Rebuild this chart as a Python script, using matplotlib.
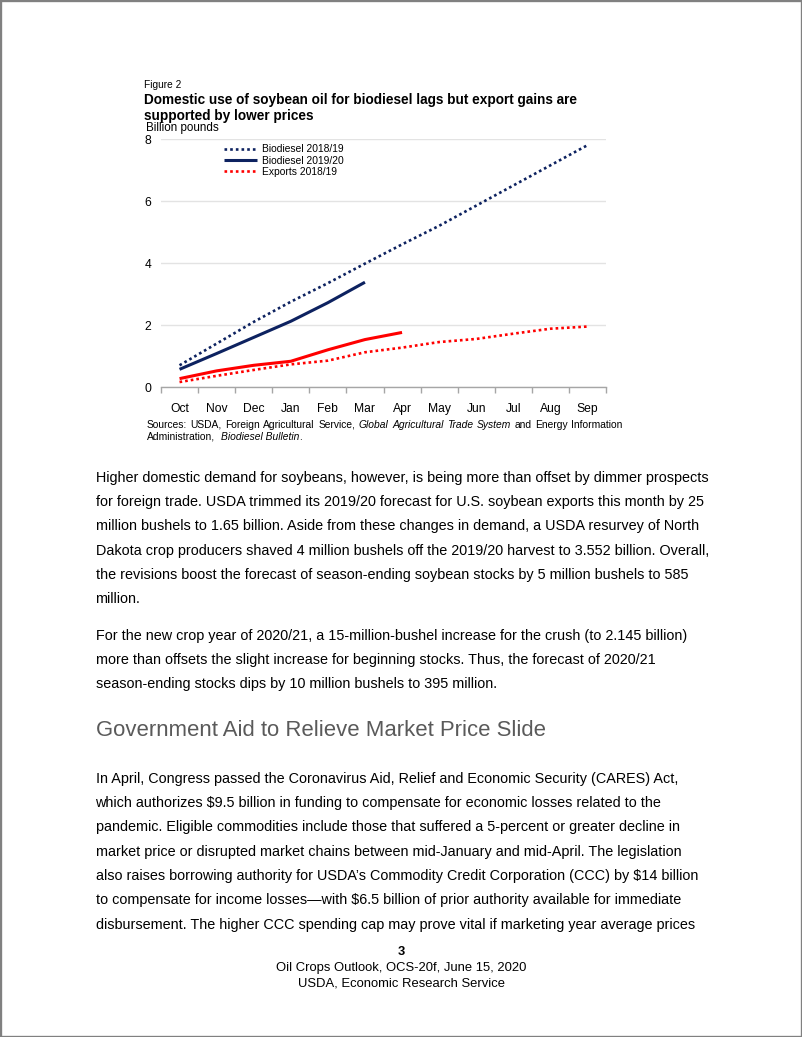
import matplotlib
matplotlib.use('Agg')
import matplotlib.pyplot as plt
from matplotlib.patches import Rectangle
import numpy as np

W, H, DPI = 802, 1037, 100
plt.rcParams['font.family'] = ['Liberation Sans', 'DejaVu Sans']

# ---------------- data ----------------
months = ['Oct', 'Nov', 'Dec', 'Jan', 'Feb', 'Mar', 'Apr', 'May', 'Jun', 'Jul', 'Aug', 'Sep']
biodiesel_1819 = [0.70, 1.40, 2.10, 2.75, 3.35, 3.98, 4.60, 5.20, 5.85, 6.50, 7.15, 7.80]
biodiesel_1920 = [0.57, 1.08, 1.60, 2.12, 2.72, 3.38]
exports_1819 = [0.16, 0.36, 0.55, 0.73, 0.85, 1.12, 1.27, 1.45, 1.55, 1.72, 1.88, 1.95]
exports_1920 = [0.27, 0.52, 0.70, 0.83, 1.20, 1.53, 1.76]
yticks = [0, 2, 4, 6, 8]
legend_labels = ['Biodiesel 2018/19', 'Biodiesel 2019/20', 'Exports 2018/19']

fig_label = 'Figure 2'
title_lines = ['Domestic use of soybean oil for biodiesel lags but export gains are',
               'supported by lower prices']
unit_label = 'Billion pounds'

para1 = ["Higher domestic demand for soybeans, however, is being more than offset by dimmer prospects",
         "for foreign trade. USDA trimmed its 2019/20 forecast for U.S. soybean exports this month by 25",
         "million bushels to 1.65 billion. Aside from these changes in demand, a USDA resurvey of North",
         "Dakota crop producers shaved 4 million bushels off the 2019/20 harvest to 3.552 billion. Overall,",
         "the revisions boost the forecast of season-ending soybean stocks by 5 million bushels to 585",
         "million."]
para2 = ["For the new crop year of 2020/21, a 15-million-bushel increase for the crush (to 2.145 billion)",
         "more than offsets the slight increase for beginning stocks. Thus, the forecast of 2020/21",
         "season-ending stocks dips by 10 million bushels to 395 million."]
heading = "Government Aid to Relieve Market Price Slide"
para3 = ["In April, Congress passed the Coronavirus Aid, Relief and Economic Security (CARES) Act,",
         "which authorizes $9.5 billion in funding to compensate for economic losses related to the",
         "pandemic. Eligible commodities include those that suffered a 5-percent or greater decline in",
         "market price or disrupted market chains between mid-January and mid-April. The legislation",
         "also raises borrowing authority for USDA\u2019s Commodity Credit Corporation (CCC) by $14 billion",
         "to compensate for income losses\u2014with $6.5 billion of prior authority available for immediate",
         "disbursement. The higher CCC spending cap may prove vital if marketing year average prices"]
footer = ["3", "Oil Crops Outlook, OCS-20f, June 15, 2020", "USDA, Economic Research Service"]

# ---------------- figure ----------------
fig = plt.figure(figsize=(W / DPI, H / DPI), dpi=DPI)
fig.patch.set_facecolor('white')
renderer = fig.canvas.get_renderer()


def fx(x):
    return x / W


def fy(y):
    return 1 - y / H


def measure(s, size, weight='normal', style='normal'):
    t = fig.text(0, 0, s, fontsize=size, fontweight=weight, fontstyle=style, parse_math=False)
    w = t.get_window_extent(renderer).width
    t.remove()
    return w


def fit(s, target, weight='normal', style='normal'):
    return 10.0 * target / measure(s, 10.0, weight, style)


def put(x, yc, s, size, weight='normal', style='normal', color='black', ha='left'):
    # yc = visual centre of the line in page pixels
    base = yc + 0.33 * size * DPI / 72.0
    return fig.text(fx(x), fy(base), s, fontsize=size, fontweight=weight, fontstyle=style,
                    color=color, ha=ha, va='baseline', parse_math=False)


NAVY = '#0d2260'
RED = '#ff0000'

# ---------------- chart ----------------
ax_left, ax_right, ax_top, ax_bot = 161, 606, 139, 387
ax = fig.add_axes([fx(ax_left), fy(ax_bot), (ax_right - ax_left) / W, (ax_bot - ax_top) / H])
x_all = np.arange(len(months)) + 0.5

dot = (0, (1.0, 1.15))
ax.plot(x_all, biodiesel_1819, color=NAVY, lw=1.9, linestyle=dot, dash_capstyle='butt',
        label=legend_labels[0], zorder=3)
ax.plot(x_all[:len(biodiesel_1920)], biodiesel_1920, color=NAVY, lw=2.2,
        solid_capstyle='butt', label=legend_labels[1], zorder=4)
ax.plot(x_all, exports_1819, color=RED, lw=1.9, linestyle=dot, dash_capstyle='butt',
        label=legend_labels[2], zorder=3)
ax.plot(x_all[:len(exports_1920)], exports_1920, color=RED, lw=2.2,
        solid_capstyle='butt', zorder=4)

ax.set_xlim(0, len(months))
ax.set_ylim(0, 8)
ax.set_yticks(yticks)
ax.set_yticklabels([str(v) for v in yticks])
ax.set_xticks(x_all)
ax.set_xticklabels(months)
ax.set_xticks(np.arange(len(months) + 1), minor=True)
ax.tick_params(axis='x', which='major', length=0, pad=11.5, labelsize=8.7)
ax.tick_params(axis='x', which='minor', length=4, color='#a6a6a6', width=1, direction='out')
ax.tick_params(axis='y', length=0, pad=7, labelsize=8.7)
for s in ['top', 'right', 'left']:
    ax.spines[s].set_visible(False)
ax.spines['bottom'].set_color('#a6a6a6')
ax.spines['bottom'].set_linewidth(1.0)
ax.grid(axis='y', color='#e3e3e3', lw=1.0)
ax.set_axisbelow(True)
ax.patch.set_alpha(0)

# legend
leg_fs = fit(legend_labels[0], 81.3)
handle_px = 32.5
fs_px = leg_fs * DPI / 72.0
leg = ax.legend(loc='upper left', bbox_to_anchor=(fx(224.3), fy(144.5)),
                bbox_transform=fig.transFigure, frameon=False, fontsize=leg_fs,
                handlelength=handle_px / fs_px, handletextpad=0.55, labelspacing=0.12,
                borderaxespad=0, borderpad=0)

# chart texts
put(144, 85, fig_label, fit(fig_label, 37.5))
tfs = fit(title_lines[0], 436, weight='bold')
put(144, 99.5, title_lines[0], tfs, weight='bold')
put(144, 115, title_lines[1], tfs, weight='bold')
put(145.5, 127.5, unit_label, fit(unit_label, 72.5))

# sources (justified first line, mixed italics)
src_fs = leg_fs
line1 = [("Sources:", 'normal'), ("USDA,", 'normal'), ("Foreign", 'normal'), ("Agricultural", 'normal'),
         ("Service,", 'normal'), ("Global", 'italic'), ("Agricultural", 'italic'), ("Trade", 'italic'),
         ("System", 'italic'), ("and", 'normal'), ("Energy", 'normal'), ("Information", 'normal')]
widths = [measure(w, src_fs, style=st) for w, st in line1]
x0, x1 = 146.7, 622.5
gap = (x1 - x0 - sum(widths)) / (len(line1) - 1)
xc = x0
for (w, st), wd in zip(line1, widths):
    put(xc, 424.3, w, src_fs, style=st)
    xc += wd + gap
line2 = [("Administration,", 'normal'), ("Biodiesel Bulletin", 'italic'), (".", 'normal')]
xc = 146.7
sp = measure("a a", src_fs) - measure("aa", src_fs)
for i, (w, st) in enumerate(line2):
    put(xc, 436.5, w, src_fs, style=st)
    xc += measure(w, src_fs, style=st)
    if i == 0:
        xc += sp * 2.2

# ---------------- body text ----------------
body_fs = fit(para1[0], 612)
lh = 24.35
for i, s in enumerate(para1):
    put(95.5, 477 + i * lh, s, body_fs)
for i, s in enumerate(para2):
    put(95.5, 635 + i * lh, s, body_fs)
put(95.5, 729, heading, fit(heading, 451), color='#5a5a5a')
for i, s in enumerate(para3):
    put(95.5, 778 + i * lh, s, body_fs)

# footer
ffs = fit(footer[1], 251)
put(401, 951, footer[0], ffs, weight='bold', ha='center')
put(401, 967, footer[1], ffs, ha='center')
put(401, 982, footer[2], ffs, ha='center')

# page border
fig.patches.append(Rectangle((0, 0), 1, 1, transform=fig.transFigure, fill=False,
                             edgecolor='#808080', lw=2.4))

fig.savefig('out.png', dpi=DPI, facecolor='white')
